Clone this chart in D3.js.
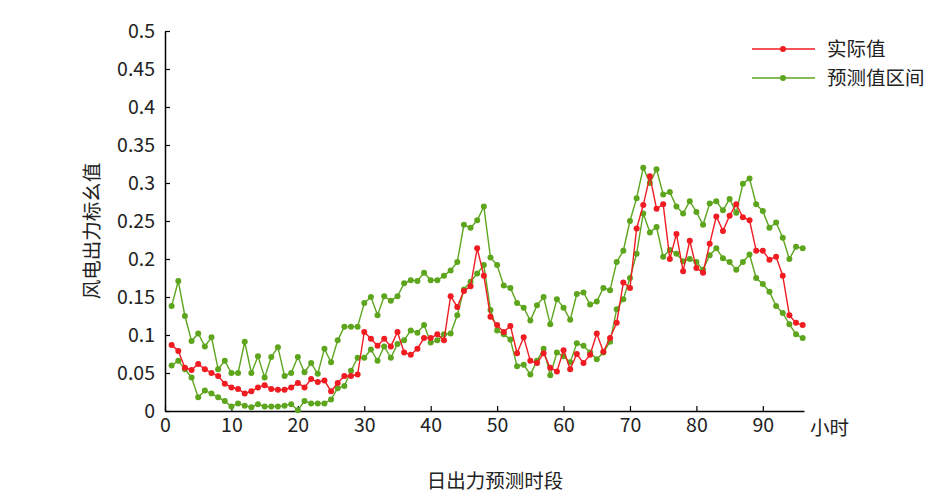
<!DOCTYPE html>
<html>
<head>
<meta charset="utf-8">
<script src="https://cdn.jsdelivr.net/npm/d3@7"></script>
<style>
  body { margin: 0; background: #fff; }
  text { font-family: "Noto Sans CJK SC", "Noto Sans", sans-serif; fill: #222; }
</style>
</head>
<body>
<div class="chart"></div>
<script>
'use strict';

// Data
const hours = d3.range(1, 97);
const actual = [0.087, 0.079, 0.057, 0.054, 0.062, 0.055, 0.050, 0.046, 0.036, 0.031, 0.029, 0.023, 0.026, 0.031, 0.034, 0.029,
  0.028, 0.028, 0.031, 0.037, 0.031, 0.042, 0.038, 0.040, 0.026, 0.037, 0.046, 0.046, 0.048, 0.104, 0.095, 0.086,
  0.095, 0.085, 0.104, 0.077, 0.074, 0.082, 0.096, 0.096, 0.101, 0.093, 0.151, 0.137, 0.158, 0.164, 0.214, 0.178,
  0.124, 0.113, 0.104, 0.112, 0.076, 0.097, 0.066, 0.063, 0.076, 0.057, 0.052, 0.080, 0.055, 0.075, 0.063, 0.074,
  0.102, 0.078, 0.096, 0.116, 0.169, 0.162, 0.240, 0.271, 0.309, 0.266, 0.272, 0.200, 0.233, 0.184, 0.224, 0.188,
  0.182, 0.220, 0.256, 0.237, 0.257, 0.272, 0.255, 0.251, 0.211, 0.211, 0.199, 0.203, 0.178, 0.126, 0.116, 0.113];
const upper = [0.138, 0.171, 0.125, 0.092, 0.102, 0.085, 0.097, 0.055, 0.066, 0.050, 0.050, 0.091, 0.050, 0.072, 0.044, 0.071,
  0.084, 0.046, 0.050, 0.071, 0.051, 0.063, 0.049, 0.082, 0.064, 0.093, 0.111, 0.111, 0.111, 0.142, 0.150, 0.126,
  0.151, 0.145, 0.151, 0.168, 0.172, 0.171, 0.182, 0.172, 0.172, 0.178, 0.185, 0.196, 0.245, 0.241, 0.251, 0.269,
  0.202, 0.192, 0.165, 0.162, 0.142, 0.136, 0.119, 0.139, 0.150, 0.114, 0.147, 0.136, 0.120, 0.154, 0.156, 0.140,
  0.144, 0.162, 0.159, 0.196, 0.211, 0.250, 0.280, 0.320, 0.300, 0.318, 0.285, 0.288, 0.269, 0.260, 0.276, 0.262,
  0.245, 0.273, 0.276, 0.264, 0.279, 0.261, 0.299, 0.306, 0.272, 0.263, 0.241, 0.248, 0.228, 0.200, 0.216, 0.214];
const lower = [0.060, 0.066, 0.055, 0.044, 0.018, 0.027, 0.023, 0.018, 0.013, 0.006, 0.010, 0.007, 0.005, 0.009, 0.006, 0.006,
  0.006, 0.007, 0.009, 0.001, 0.013, 0.010, 0.010, 0.010, 0.015, 0.030, 0.033, 0.053, 0.070, 0.070, 0.081, 0.066,
  0.085, 0.070, 0.088, 0.093, 0.106, 0.103, 0.113, 0.090, 0.093, 0.101, 0.102, 0.126, 0.160, 0.170, 0.181, 0.192,
  0.133, 0.106, 0.101, 0.094, 0.059, 0.061, 0.048, 0.066, 0.082, 0.047, 0.077, 0.072, 0.064, 0.089, 0.086, 0.077,
  0.068, 0.077, 0.091, 0.134, 0.147, 0.175, 0.207, 0.260, 0.235, 0.242, 0.203, 0.212, 0.207, 0.197, 0.200, 0.196,
  0.186, 0.205, 0.214, 0.201, 0.196, 0.186, 0.196, 0.206, 0.175, 0.167, 0.157, 0.138, 0.129, 0.114, 0.101, 0.096];
const xTicks = [0, 10, 20, 30, 40, 50, 60, 70, 80, 90];
const yTicks = [0, 0.05, 0.1, 0.15, 0.2, 0.25, 0.3, 0.35, 0.4, 0.45, 0.5];
const legendNames = ['实际值', '预测值区间'];

// Setup
const w = 931;
const h = 500;
const red = '#f01c22';
const green = '#5ea51e';
const fontSize = '19.5px';

const svg = d3.select('.chart')
  .append('svg')
  .attr('width', w)
  .attr('height', h);

const xScale = d3.scaleLinear().domain([0, 96.2]).range([165, 804]);
const yScale = d3.scaleLinear().domain([0, 0.5]).range([411, 31]);

// Axes
const xAxis = d3.axisBottom(xScale).tickValues(xTicks).tickSizeInner(-5).tickSizeOuter(0).tickPadding(7);
const yAxis = d3.axisLeft(yScale).tickValues(yTicks).tickSizeInner(-5).tickSizeOuter(0).tickPadding(10)
  .tickFormat(d => String(+d.toFixed(2)));

const gx = svg.append('g')
  .attr('transform', `translate(0, ${yScale(0)})`)
  .call(xAxis);
const gy = svg.append('g')
  .attr('transform', `translate(${xScale(0)}, 0)`)
  .call(yAxis);

[gx, gy].forEach(g => {
  g.select('.domain').attr('stroke', '#000').attr('stroke-width', 1.5);
  g.selectAll('.tick line').attr('stroke', '#000').attr('stroke-width', 1.2);
  g.selectAll('.tick text').style('font-size', fontSize).attr('fill', '#222');
});
gy.selectAll('.tick text').attr('dy', '0.35em');

// x unit label
svg.append('text')
  .attr('x', 810)
  .attr('y', yScale(0) + 24)
  .style('font-size', fontSize)
  .text('小时');

// Axis titles
svg.append('text')
  .attr('transform', `translate(92, ${yScale(0.25) + 10}) rotate(-90)`)
  .attr('text-anchor', 'middle')
  .attr('dy', '0.35em')
  .style('font-size', fontSize)
  .text('风电出力标幺值');

svg.append('text')
  .attr('x', 495)
  .attr('y', 488)
  .attr('text-anchor', 'middle')
  .style('font-size', fontSize)
  .text('日出力预测时段');

// Series
const line = d3.line()
  .x((d, i) => xScale(hours[i]))
  .y(d => yScale(d));

const series = [
  { values: upper, color: green },
  { values: lower, color: green },
  { values: actual, color: red }
];

series.forEach(s => {
  svg.append('path')
    .datum(s.values)
    .attr('fill', 'none')
    .attr('stroke', s.color)
    .attr('stroke-width', 1.4)
    .attr('d', line);

  svg.append('g')
    .selectAll('circle')
    .data(s.values)
    .enter()
    .append('circle')
    .attr('cx', (d, i) => xScale(hours[i]))
    .attr('cy', d => yScale(d))
    .attr('r', 3)
    .attr('fill', s.color);
});

// Legend
const legend = svg.selectAll('.legend')
  .data(legendNames)
  .enter()
  .append('g')
  .attr('class', 'legend')
  .attr('transform', (d, i) => `translate(752, ${49 + i * 29})`);

legend.append('line')
  .attr('x1', 0)
  .attr('x2', 63)
  .attr('stroke', (d, i) => i ? green : red)
  .attr('stroke-width', 1.4);

legend.append('circle')
  .attr('cx', 31)
  .attr('r', 3)
  .attr('fill', (d, i) => i ? green : red);

legend.append('text')
  .attr('x', 75)
  .attr('dy', '0.35em')
  .style('font-size', fontSize)
  .text(d => d);
</script>
</body>
</html>
